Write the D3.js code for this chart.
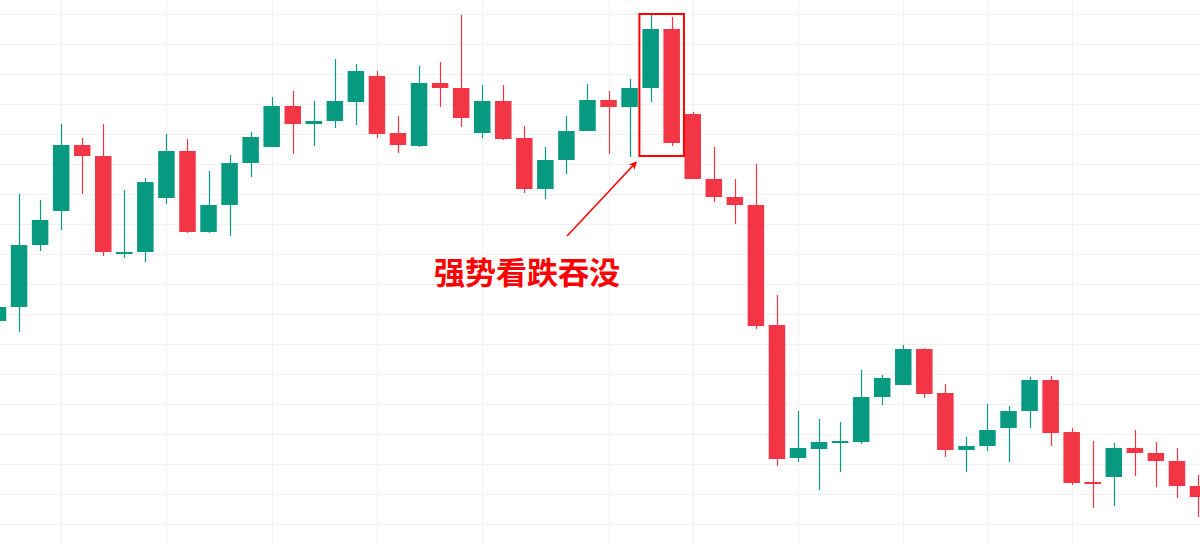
<!DOCTYPE html>
<html>
<head>
<meta charset="utf-8">
<script src="https://cdnjs.cloudflare.com/ajax/libs/d3/7.8.5/d3.min.js"></script>
<style>
  html, body { margin: 0; padding: 0; background: #fff; }
  svg { display: block; }
</style>
</head>
<body>
<svg id="chart" width="1200" height="544"></svg>
<script>
// candle data, one entry per session
const openP  = [233, 247, 309, 343, 409, 398, 301, 302, 356, 403, 322, 349, 391, 407, 448, 430, 433, 452, 478, 421,
                408, 471, 466, 421, 453, 416, 365, 394, 423, 454, 447, 466, 525, 440, 375, 357, 349, 229, 96, 105,
                112, 112, 157, 169, 205, 161, 104, 108, 126, 143, 174, 122, 72, 77, 106, 101, 93, 68];
const highP  = [251, 360, 354, 430, 416, 430, 364, 376, 420, 415, 383, 399, 422, 457, 463, 453, 495, 490, 483, 438,
                488, 492, 539, 469, 469, 428, 407, 438, 470, 463, 475, 539, 537, 442, 407, 375, 390, 259, 143, 135,
                132, 184, 179, 209, 206, 170, 117, 150, 148, 177, 178, 126, 113, 111, 124, 112, 106, 79];
const lowP   = [229, 222, 303, 324, 360, 298, 296, 292, 350, 321, 321, 318, 377, 407, 400, 408, 426, 429, 416, 401,
                407, 447, 427, 416, 414, 361, 355, 380, 423, 400, 397, 452, 408, 375, 352, 330, 225, 88, 92, 64,
                82, 110, 149, 169, 156, 97, 82, 103, 92, 126, 108, 69, 46, 48, 78, 67, 56, 37];
const closeP = [247, 309, 334, 409, 398, 302, 302, 372, 403, 322, 349, 391, 417, 448, 430, 433, 453, 483, 420, 409,
                471, 466, 436, 453, 415, 365, 394, 423, 454, 447, 466, 525, 411, 375, 357, 349, 228, 95, 106, 112,
                113, 157, 176, 205, 160, 104, 108, 124, 143, 174, 121, 71, 70, 106, 101, 93, 68, 57];

// horizontal grid prices and vertical grid candle indices
const priceGrid = [30, 60, 90, 120, 150, 180, 210, 240, 270, 300, 330, 360, 390, 420, 450, 480, 510, 540];
const timeGrid = [3, 8, 13, 18, 23, 29, 33, 38, 43, 47, 51];

// annotation
const patternLabel = "强势看跌吞没";
const patternRange = [31, 32];

const width = 1200, height = 544;
const upColor = "#089981", downColor = "#f23645";

const candles = openP.map((o, i) => ({
  i, open: o, high: highP[i], low: lowP[i], close: closeP[i]
}));

const x = d3.scaleLinear().domain([0, candles.length - 1]).range([-2, 1198]);
const y = d3.scaleLinear().domain([10, 554]).range([height, 0]);
const bodyW = 16.5;

const svg = d3.select("#chart");

// grid
svg.append("g")
  .selectAll("line")
  .data(priceGrid)
  .join("line")
  .attr("x1", 0).attr("x2", width)
  .attr("y1", d => Math.round(y(d)) + 0.5)
  .attr("y2", d => Math.round(y(d)) + 0.5)
  .attr("stroke", "#f0f1f3");

svg.append("g")
  .selectAll("line")
  .data(timeGrid)
  .join("line")
  .attr("y1", 0).attr("y2", height)
  .attr("x1", d => Math.round(x(d)) + 0.5)
  .attr("x2", d => Math.round(x(d)) + 0.5)
  .attr("stroke", "#f0f1f3");

// candles
const g = svg.append("g")
  .selectAll("g.candle")
  .data(candles)
  .join("g")
  .attr("class", "candle");

g.append("line")
  .attr("x1", d => Math.round(x(d.i)) + 0.5)
  .attr("x2", d => Math.round(x(d.i)) + 0.5)
  .attr("y1", d => y(d.high))
  .attr("y2", d => y(d.low))
  .attr("stroke", d => d.close >= d.open ? upColor : downColor)
  .attr("stroke-width", 1.2);

g.append("rect")
  .attr("x", d => x(d.i) - bodyW / 2)
  .attr("width", bodyW)
  .attr("y", d => y(Math.max(d.open, d.close)))
  .attr("height", d => Math.max(2, Math.abs(y(d.open) - y(d.close))))
  .attr("fill", d => d.close >= d.open ? upColor : downColor);

// pattern box
const boxCandles = candles.slice(patternRange[0], patternRange[1] + 1);
const boxTop = d3.max(boxCandles, d => d.high) + 1;
const boxBottom = d3.min(boxCandles, d => d.low) - 10;
const boxL = x(patternRange[0]) - bodyW / 2 - 3;
const boxR = x(patternRange[1]) + bodyW / 2 + 4;

svg.append("rect")
  .attr("x", boxL)
  .attr("y", y(boxTop))
  .attr("width", boxR - boxL)
  .attr("height", y(boxBottom) - y(boxTop))
  .attr("fill", "none")
  .attr("stroke", "#ff0000")
  .attr("stroke-width", 2);

// arrow
svg.append("defs").append("marker")
  .attr("id", "head")
  .attr("viewBox", "0 0 10 10")
  .attr("refX", 9).attr("refY", 5)
  .attr("markerWidth", 5).attr("markerHeight", 5)
  .attr("orient", "auto")
  .append("path")
  .attr("d", "M0,0 L10,5 L0,10 L3,5 Z")
  .attr("fill", "#ff0000");

const tip = [boxL - 3, y(boxBottom) + 6];
svg.append("line")
  .attr("x1", x(27.03)).attr("y1", y(318))
  .attr("x2", tip[0]).attr("y2", tip[1])
  .attr("stroke", "#ff0000")
  .attr("stroke-width", 1.6)
  .attr("marker-end", "url(#head)");

svg.append("text")
  .attr("x", x(25.13))
  .attr("y", y(270))
  .attr("text-anchor", "middle")
  .attr("font-family", "'Noto Sans CJK SC', 'Noto Sans', sans-serif")
  .attr("font-weight", 700)
  .attr("font-size", 31)
  .attr("fill", "#ff0000")
  .text(patternLabel);
</script>
</body>
</html>
